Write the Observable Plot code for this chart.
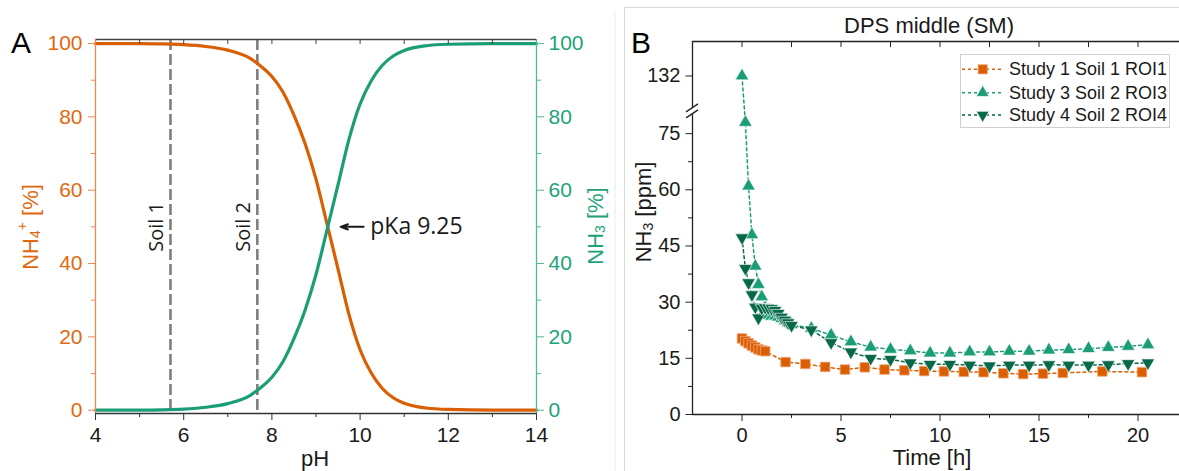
<!DOCTYPE html>
<html><head><meta charset="utf-8">
<script src="https://cdn.jsdelivr.net/npm/d3@7"></script>
<script src="https://cdn.jsdelivr.net/npm/@observablehq/plot@0.6"></script>
<style>
html,body{margin:0;padding:0;background:#fff;overflow:hidden;}
#wrap{position:relative;width:1179px;height:471px;overflow:hidden;background:#fff;}
#wrap > *{position:absolute;}
</style></head><body><div id="wrap"></div>
<script>
// ---------- Panel A data ----------
const pH      = [4, 5, 5.5, 6, 6.5, 7, 7.5, 7.75, 8, 8.25, 8.5, 8.75, 9, 9.25, 9.5, 9.75, 10, 10.25, 10.5, 10.75, 11, 11.5, 12, 13, 14];
const nh3Pct  = [0, 0.03, 0.1, 0.3, 0.8, 1.8, 4.0, 6.2, 9.0, 13.2, 19.5, 27.2, 37.0, 49.2, 61.5, 74.0, 83.5, 89.8, 94.0, 96.6, 98.1, 99.4, 99.8, 100, 100];
const nh4Pct  = [100, 99.97, 99.9, 99.7, 99.2, 98.2, 96.0, 93.8, 91.0, 86.8, 80.5, 72.8, 63.0, 50.8, 38.5, 26.0, 16.5, 10.2, 6.0, 3.4, 1.9, 0.6, 0.2, 0, 0];
const soilPH     = [5.7, 7.67];
const soilLabels = ["Soil 1", "Soil 2"];
const soilLabelY = [50, 50];
const pKaLabel   = ["pKa 9.25"];
const pKaArrow   = {x1: 10.08, x2: 9.56, y: 50};
const pKaTextPos = {x: 10.23, y: 50};
const phTicks  = [4, 6, 8, 10, 12, 14];
const phMinor  = [5, 7, 9, 11, 13];
const phTop    = [5, 6, 7, 8, 9, 10, 11, 12, 13];
const pctTicks = [0, 20, 40, 60, 80, 100];
const pctMinor = [10, 30, 50, 70, 90];

// ---------- Panel B data ----------
const study1T = [0, 0.17, 0.33, 0.5, 0.67, 0.83, 1.0, 1.17, 2.2, 3.2, 4.2, 5.2, 6.2, 7.2, 8.2, 9.2, 10.2, 11.2, 12.2, 13.2, 14.2, 15.2, 16.2, 18.2, 20.2];
const study1V = [20.3, 19.6, 19.0, 18.4, 17.9, 17.4, 17.1, 16.9, 14.0, 13.5, 12.7, 12.0, 12.6, 12.0, 11.8, 11.6, 11.5, 11.4, 11.3, 11.0, 10.8, 10.9, 11.1, 11.5, 11.3];
const study3T = [0, 0.17, 0.33, 0.5, 0.67, 0.83, 1.0, 1.17, 1.33, 1.5, 1.67, 1.83, 2.0, 2.17, 2.33, 2.5, 3.5, 4.5, 5.5, 6.5, 7.5, 8.5, 9.5, 10.5, 11.5, 12.5, 13.5, 14.5, 15.5, 16.5, 17.5, 18.5, 19.5, 20.5];
const study3V = [132, 78, 61, 48, 39.6, 34.7, 31.4, 28.5, 26.5, 26.2, 26.3, 26.0, 25.6, 25.0, 24.5, 24.0, 23.0, 21.2, 19.4, 18.0, 17.4, 17.0, 16.4, 16.4, 16.7, 16.7, 16.9, 16.9, 17.2, 17.3, 17.6, 17.9, 18.2, 18.6];
const study4T = [0, 0.17, 0.33, 0.5, 0.67, 0.83, 1.0, 1.17, 1.33, 1.5, 1.67, 1.83, 2.0, 2.17, 2.33, 2.5, 3.5, 4.5, 5.5, 6.5, 7.5, 8.5, 9.5, 10.5, 11.5, 12.5, 13.5, 14.5, 15.5, 16.5, 17.5, 18.5, 19.5, 20.5];
const study4V = [47.2, 39.0, 35.2, 32.0, 28.7, 25.8, 28.4, 28.6, 28.5, 28.3, 27.8, 27.0, 26.0, 25.2, 24.5, 23.8, 22.6, 19.2, 16.7, 15.0, 14.7, 13.8, 13.4, 13.4, 13.2, 13.0, 13.2, 13.2, 13.3, 13.2, 13.2, 13.3, 13.6, 13.8];
const seriesNames = ["Study 1 Soil 1 ROI1", "Study 3 Soil 2 ROI3", "Study 4 Soil 2 ROI4"];
const ppmTicks  = [0, 15, 30, 45, 60, 75, 132];
const ppmMinor  = [7.5, 22.5, 37.5, 52.5, 67.5];
const timeTicks = [0, 5, 10, 15, 20];
const timeMinor = [2.5, 7.5, 12.5, 17.5, 22.5];
const timeTop   = [0, 2.5, 5, 7.5, 10, 12.5, 15, 17.5, 20];
const BREAK_LO = 80.4, BREAK_HI = 122;   // axis break: 80.4 .. 122 removed

// ---------- styles ----------
const FONT = "'Liberation Sans', Arial, sans-serif";
const ANN_FONT = "'Open Sans', sans-serif";
const ORANGE = "#d95f02", GREEN = "#1b9e77", DKGREEN = "#08694a";
const ORANGE_TXT = "#e0690f", ORANGE_AX = "#ec8a4e";
const GREEN_TXT = "#1ea27a", GREEN_AX = "#52b895";
const INK = "#1a1a1a";

const wrap = document.getElementById("wrap");

// ================= Panel A =================
const dataA = pH.map((p, i) => ({pH: p, nh4: nh4Pct[i], nh3: nh3Pct[i]}));
const yA = [-0.9, 101.1];
const xA = [4, 14];
const plotA = Plot.plot({
  width: 620, height: 471,
  marginLeft: 95, marginRight: 84, marginTop: 39, marginBottom: 58,
  style: {fontFamily: FONT, fontSize: "21px", background: "none", overflow: "visible"},
  x: {domain: xA},
  y: {domain: yA},
  marks: [
    Plot.ruleX(soilPH, {stroke: "#7f7f7f", strokeWidth: 2.6, strokeDasharray: "11,4"}),
    Plot.line(dataA, {x: "pH", y: "nh4", stroke: ORANGE, strokeWidth: 3.2, curve: "monotone-x"}),
    Plot.line(dataA, {x: "pH", y: "nh3", stroke: GREEN, strokeWidth: 3.2, curve: "monotone-x"}),
    Plot.text(soilLabels, {x: soilPH, y: soilLabelY, text: d => d, rotate: -90, dx: -14,
      fontFamily: ANN_FONT, fontSize: 20, fill: INK}),
    Plot.arrow([pKaArrow], {x1: "x1", x2: "x2", y1: "y", y2: "y", stroke: INK, strokeWidth: 2,
      headLength: 10, headAngle: 40}),
    Plot.text(pKaLabel, {x: [pKaTextPos.x], y: [pKaTextPos.y], text: d => d, textAnchor: "start",
      fontFamily: ANN_FONT, fontSize: 23, fill: INK}),
    // frame
    Plot.ruleY([yA[1]], {stroke: "#444", strokeWidth: 1.3}),
    Plot.ruleY([yA[0]], {stroke: "#333", strokeWidth: 1.3}),
    Plot.ruleX([xA[0]], {stroke: ORANGE_AX, strokeWidth: 1.3}),
    Plot.ruleX([xA[1]], {stroke: GREEN_AX, strokeWidth: 1.3}),
    // axes
    Plot.axisY({ticks: pctTicks, anchor: "left", tickSize: 7, tickPadding: 6, stroke: ORANGE_AX, fill: ORANGE_TXT, label: null}),
    Plot.axisY({ticks: pctMinor, anchor: "left", tickSize: 4, tickFormat: () => "", stroke: ORANGE_AX, label: null}),
    Plot.axisY({ticks: pctTicks, anchor: "right", tickSize: 7, tickPadding: 5, stroke: GREEN_AX, fill: GREEN_TXT, label: null}),
    Plot.axisY({ticks: pctMinor, anchor: "right", tickSize: 4, tickFormat: () => "", stroke: GREEN_AX, label: null}),
    Plot.axisX({ticks: phTicks, anchor: "bottom", tickSize: 7, tickPadding: 7, stroke: "#333", fill: INK, label: null}),
    Plot.axisX({ticks: phMinor, anchor: "bottom", tickSize: 4, tickFormat: () => "", stroke: "#333", label: null}),
    Plot.axisX({ticks: phTop, anchor: "top", tickSize: -4, tickFormat: () => "", stroke: "#444", label: null})
  ]
});
plotA.style.left = "0px"; plotA.style.top = "0px";
wrap.appendChild(plotA);

{
  const s = d3.select(plotA);
  const g = s.append("g").attr("font-family", FONT);
  g.append("text").attr("x", 11).attr("y", 53).attr("text-anchor", "start").attr("font-size", 30).attr("fill", "#000").text("A");
  const lt = g.append("text").attr("transform", "translate(30,227) rotate(-90)")
    .attr("text-anchor", "middle").attr("dominant-baseline", "central")
    .attr("font-size", 22).attr("fill", ORANGE_TXT);
  lt.append("tspan").text("NH");
  lt.append("tspan").attr("font-size", 14).attr("dy", 5).text("4");
  lt.append("tspan").attr("font-size", 14).attr("dy", -13).text("+");
  lt.append("tspan").attr("dy", 8).text(" [%]");
  const rt = g.append("text").attr("transform", "translate(595,226) rotate(-90)")
    .attr("text-anchor", "middle").attr("dominant-baseline", "central")
    .attr("font-size", 22).attr("fill", GREEN_TXT);
  rt.append("tspan").text("NH");
  rt.append("tspan").attr("font-size", 14).attr("dy", 5).text("3");
  rt.append("tspan").attr("dy", -5).text(" [%]");
  g.append("text").attr("x", 315).attr("y", 466).attr("text-anchor", "middle")
    .attr("font-size", 22).attr("fill", INK).text("pH");
}

// ================= Panel B =================
const brk = v => (v <= BREAK_LO ? v : v - (BREAK_HI - BREAK_LO));
const mk = (T, V) => T.map((t, i) => ({t, v: brk(V[i])}));
const s1 = mk(study1T, study1V), s3 = mk(study3T, study3V), s4 = mk(study4T, study4V);
const xB = [-2.5, 22.5];
const yB = [0, 99.6];
const ppmPos = ppmTicks.map(brk);
const ppmLabel = new Map(ppmPos.map((p, i) => [p, String(ppmTicks[i])]));

const plotB = Plot.plot({
  width: 600, height: 471,
  marginLeft: 92, marginRight: 13, marginTop: 41, marginBottom: 57,
  style: {fontFamily: FONT, fontSize: "20px", background: "none", overflow: "visible"},
  x: {domain: xB},
  y: {domain: yB},
  marks: [
    Plot.line(s1, {x: "t", y: "v", stroke: ORANGE, strokeWidth: 1.5, strokeDasharray: "3,3"}),
    Plot.line(s3, {x: "t", y: "v", stroke: GREEN, strokeWidth: 1.5, strokeDasharray: "3,3"}),
    Plot.line(s4, {x: "t", y: "v", stroke: DKGREEN, strokeWidth: 1.5, strokeDasharray: "3,3"}),
    Plot.dot(s1, {x: "t", y: "v", symbol: "square", r: 5.4, fill: ORANGE, stroke: "#f3a679", strokeWidth: 0.8}),
    Plot.dot(s3, {x: "t", y: "v", symbol: "triangle", r: 5.0, fill: GREEN, stroke: "#ffffff", strokeWidth: 0.6}),
    Plot.dot(s4, {x: "t", y: "v", symbol: "triangle", rotate: 180, r: 5.0, fill: DKGREEN, stroke: "#ffffff", strokeWidth: 0.6}),
    // frame
    Plot.ruleX([xB[0]], {stroke: "#222", strokeWidth: 1.3}),
    Plot.ruleY([yB[0]], {stroke: "#222", strokeWidth: 1.3}),
    Plot.ruleY([yB[1]], {stroke: "#222", strokeWidth: 1.3}),
    // axes
    Plot.axisY({ticks: ppmPos, anchor: "left", tickSize: 6.5, tickPadding: 5.5, tickFormat: d => ppmLabel.get(d), stroke: "#222", fill: INK, label: null}),
    Plot.axisY({ticks: ppmMinor, anchor: "left", tickSize: 4, tickFormat: () => "", stroke: "#222", label: null}),
    Plot.axisX({ticks: timeTicks, anchor: "bottom", tickSize: 7, tickPadding: 6.5, stroke: "#222", fill: INK, label: null}),
    Plot.axisX({ticks: timeMinor, anchor: "bottom", tickSize: 4, tickFormat: () => "", stroke: "#222", label: null}),
    Plot.axisX({ticks: timeTop, anchor: "top", tickSize: -5, tickFormat: () => "", stroke: "#222", label: null})
  ]
});
plotB.style.left = "600px"; plotB.style.top = "0px";
wrap.appendChild(plotB);

{
  const s = d3.select(plotB);
  const sx = plotB.scale("x"), sy = plotB.scale("y");
  const g = s.append("g").attr("font-family", FONT);
  // panel borders
  g.append("line").attr("x1", 15).attr("x2", 15).attr("y1", 10).attr("y2", 471).attr("stroke", "#ececec").attr("stroke-width", 1);
  g.append("path").attr("d", "M24.5,471V7.5H600").attr("fill", "none").attr("stroke", "#d9d9d9").attr("stroke-width", 1);
  // axis break
  const xa = sx.apply(xB[0]), yb = sy.apply(BREAK_LO);
  g.append("polygon").attr("points", `${xa-7},${yb-1} ${xa+7},${yb-9} ${xa+7},${yb-3} ${xa-7},${yb+5}`).attr("fill", "#fff");
  g.append("line").attr("x1", xa-6).attr("y1", yb-1).attr("x2", xa+6).attr("y2", yb-9).attr("stroke", "#222").attr("stroke-width", 1.3);
  g.append("line").attr("x1", xa-6).attr("y1", yb+5).attr("x2", xa+6).attr("y2", yb-3).attr("stroke", "#222").attr("stroke-width", 1.3);
  // texts
  g.append("text").attr("x", 31).attr("y", 53).attr("text-anchor", "start").attr("font-size", 30).attr("fill", "#000").text("B");
  g.append("text").attr("x", 329).attr("y", 25).attr("text-anchor", "middle").attr("dominant-baseline", "central")
    .attr("font-size", 22).attr("fill", INK).text("DPS middle (SM)");
  g.append("text").attr("x", 332).attr("y", 465).attr("text-anchor", "middle")
    .attr("font-size", 22).attr("fill", INK).text("Time [h]");
  const yt = g.append("text").attr("transform", "translate(43,212) rotate(-90)")
    .attr("text-anchor", "middle").attr("dominant-baseline", "central").attr("font-size", 22).attr("fill", INK);
  yt.append("tspan").text("NH");
  yt.append("tspan").attr("font-size", 14).attr("dy", 5).text("3");
  yt.append("tspan").attr("dy", -5).text(" [ppm]");
}

// ================= Legend (panel B) =================
{
  const leg = d3.create("svg").attr("width", 214).attr("height", 76)
    .style("left", "960px").style("top", "54px").attr("font-family", FONT);
  leg.append("rect").attr("x", 0.5).attr("y", 0.5).attr("width", 209).attr("height", 73)
    .attr("fill", "#fff").attr("stroke", "#d0d0d0");
  const rows = [
    {name: seriesNames[0], color: ORANGE, sym: d3.symbolSquare, size: 5.2, rot: 0, edge: "#f3a679"},
    {name: seriesNames[1], color: GREEN, sym: d3.symbolTriangle, size: 4.8, rot: 0, edge: "#fff"},
    {name: seriesNames[2], color: DKGREEN, sym: d3.symbolTriangle, size: 4.8, rot: 180, edge: "#fff"}
  ];
  const rowY = [15.3, 38.7, 61];
  rows.forEach((r, i) => {
    const y = rowY[i];
    leg.append("line").attr("x1", 2).attr("x2", 43).attr("y1", y).attr("y2", y)
      .attr("stroke", r.color).attr("stroke-width", 1.5).attr("stroke-dasharray", "3,3");
    leg.append("path").attr("d", d3.symbol(r.sym, Math.PI * r.size * r.size)())
      .attr("transform", `translate(22.7,${y}) rotate(${r.rot})`)
      .attr("fill", r.color).attr("stroke", r.edge).attr("stroke-width", 0.7);
    leg.append("text").attr("x", 49).attr("y", y).attr("dominant-baseline", "central")
      .attr("font-size", 18).attr("fill", INK).text(r.name);
  });
  wrap.appendChild(leg.node());
}
</script></body></html>
